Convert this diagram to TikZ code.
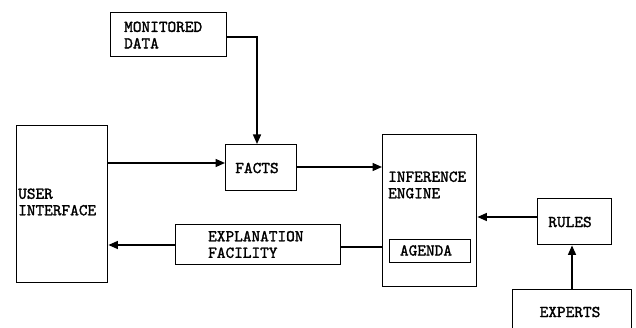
\documentclass[tikz,border=0pt]{standalone}
\usepackage{fontspec}
\newfontfamily\tw[FakeBold=1.6]{lmmono10-regular.otf}
\usetikzlibrary{arrows.meta}
\begin{document}
\begin{tikzpicture}[x=1pt,y=-1pt,
  box/.style={draw, line width=1.4pt, inner sep=0pt, anchor=north west},
  txt/.style={font=\tw\bfseries\fontsize{16.5}{16.5}\selectfont, inner sep=0pt, align=left},
  conn/.style={line width=1.4pt},
  arr/.style={conn, -{Triangle[length=9.5pt,width=8pt]}}]
\useasboundingbox (0,0) rectangle (636,328);
\clip (0,0) rectangle (636,328);
% boxes
\node[box, minimum width=116pt, minimum height=44pt] (md) at (110,12) {};
\node[box, minimum width=91pt, minimum height=157pt] (ui) at (16,125) {};
\node[box, minimum width=71pt, minimum height=46pt] (facts) at (225,144) {};
\node[box, minimum width=94pt, minimum height=152pt] (ie) at (382,134) {};
\node[box, minimum width=81pt, minimum height=23pt] (ag) at (389,239) {};
\node[box, minimum width=165pt, minimum height=40pt] (ef) at (175,224) {};
\node[box, minimum width=74pt, minimum height=46pt] (rules) at (537,198) {};
\node[box, minimum width=119pt, minimum height=60pt] (exp) at (512,289) {};
% texts
\node[txt, anchor=west] (mdt) at (124,35) {MONITORED\\DATA};
\node[txt, anchor=west] (uit) at (18,202) {USER\\INTERFACE};
\node[txt] (factst) at (257,168) {FACTS};
\node[txt, anchor=west] (iet) at (388,185) {INFERENCE\\ENGINE};
\node[txt] (agt) at (426,250.5) {AGENDA};
\node[txt, anchor=west] (eft) at (208,244.5) {EXPLANATION\\FACILITY};
\node[txt] (rulest) at (570,222) {RULES};
\node[txt] (expt) at (570,312) {EXPERTS};
% connectors
\coordinate (mdbend) at (257,37);
\draw[arr] (md.east |- mdbend) -- (mdbend) -- (mdbend |- facts.north);
\draw[arr] (ui.east |- 0,163) -- (facts.west |- 0,163);
\draw[arr] (facts.east |- 0,167) -- (ie.west |- 0,167);
\draw[arr] (rules.west |- 0,217) -- (ie.east |- 0,217);
\draw[arr] (exp.north -| 572,0) -- (rules.south -| 572,0);
\draw[conn] (ie.west |- 0,247) -- (ef.east |- 0,247);
\draw[arr] (ef.west |- 0,245) -- (ui.east |- 0,245);
\end{tikzpicture}
\end{document}
